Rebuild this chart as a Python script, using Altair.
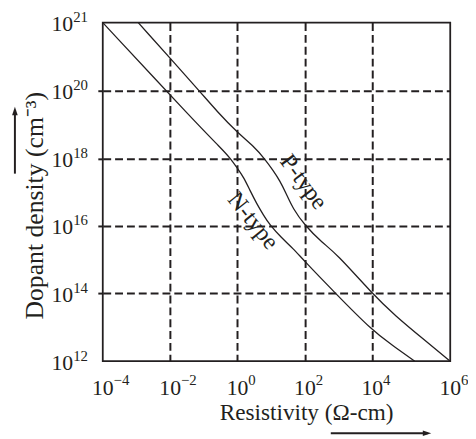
import altair as alt
import pandas as pd

# ---- data (resistivity in ohm-cm, density in cm^-3) ----
n_rho = [1.0e-4, 6.5e-2, 0.31, 0.62, 1.03, 1.52, 2.37,
         3.7, 5.9, 9.1, 20.0, 44, 97, 824, 1.0e4, 3.2e4, 1.23e5]
n_dens = [1.0e21, 1.0e19, 2.1e18, 1.0e18, 4.8e17, 2.75e17, 1.1e17,
          4.6e16, 2.1e16, 1.07e16, 4.5e15, 2.2e15, 9.1e14, 1.0e14, 8.1e12, 3.0e12, 1.0e12]
p_rho = [1.13e-3, 7.3e-2, 0.25, 1.01, 3.0, 6.5, 11.5, 18,
         28, 44, 97, 336, 824, 1.0e4, 3.8e4, 2.2e5, 1.0e6]
p_dens = [1.0e21, 1.0e20, 2.4e19, 5.7e18, 2.3e18, 9.5e17, 4.3e17, 2.2e17,
          9.0e16, 3.3e16, 1.07e16, 3.1e15, 1.6e15, 1.0e14, 2.25e13, 4.2e12, 1.0e12]

curve_names = ["N-type", "P-type"]
curve_label_rho = [2.85, 90.0]
curve_label_dens = [1.4e16, 2.0e17]

x_tick_values = [1e-4, 1e-2, 1e0, 1e2, 1e4, 1e6]
x_tick_sup = ["\u22124", "\u22122", "0", "2", "4", "6"]
y_tick_values = [1e12, 1e14, 1e16, 1e18, 1e20, 1e21]
y_tick_sup = ["12", "14", "16", "18", "20", "21"]

x_grid = [1e-2, 1e0, 1e2, 1e4]
y_grid = [1e14, 1e16, 1e18, 1e20]

ink = "#231f20"
font = "Liberation Serif"

W, H = 352, 343
xs = alt.Scale(type="log", domain=[1e-4, 1e4, 1e6], range=[0, 273, W])
ys = alt.Scale(type="log", domain=[1e12, 1e20, 1e21], range=[H, 69, 0])

xaxis = alt.Axis(values=x_grid, labels=False, ticks=False, domain=False,
                 grid=True, gridDash=[8, 4], gridWidth=2, gridColor=ink, gridOpacity=1,
                 title="Resistivity (\u03a9-cm)", titleFont=font, titleFontSize=23.5,
                 titleFontWeight="normal", titleColor=ink, titleX=206, titleY=59,
                 titleAlign="center", titleBaseline="alphabetic")
yaxis = alt.Axis(values=y_grid, labels=False, ticks=True, tickSize=9, tickDash=[5, 4],
                 tickWidth=2, tickColor=ink, domain=False,
                 grid=True, gridDash=[8, 4], gridWidth=2, gridColor=ink, gridOpacity=1,
                 title="Dopant density (cm\u207b\u00b3)", titleFont=font, titleFontSize=26,
                 titleFontWeight="normal", titleColor=ink, titleAngle=270,
                 titleX=-69, titleY=185, titleAlign="center", titleBaseline="middle")


def X(field):
    return alt.X(field, scale=xs, axis=xaxis)


def Y(field):
    return alt.Y(field, scale=ys, axis=yaxis)


curves = pd.DataFrame({
    "rho": n_rho + p_rho,
    "dens": n_dens + p_dens,
    "type": ["N-type"] * len(n_rho) + ["P-type"] * len(p_rho),
    "order": list(range(len(n_rho))) + list(range(len(p_rho))),
})

lines = alt.Chart(curves).mark_line(color=ink, strokeWidth=1.3, interpolate="basis").encode(
    x=X("rho:Q"), y=Y("dens:Q"), detail="type:N", order="order:Q")

lab_df = pd.DataFrame({"name": curve_names, "rho": curve_label_rho, "dens": curve_label_dens})
lab_n = alt.Chart(lab_df[lab_df.name == "N-type"]).mark_text(
    font=font, fontSize=24, color=ink, angle=51, align="center", baseline="middle").encode(
    x=X("rho:Q"), y=Y("dens:Q"), text="name:N")
lab_p = alt.Chart(lab_df[lab_df.name == "P-type"]).mark_text(
    font=font, fontSize=24, color=ink, angle=53, align="center", baseline="middle").encode(
    x=X("rho:Q"), y=Y("dens:Q"), text="name:N")

xl = pd.DataFrame({"v": x_tick_values, "sup": x_tick_sup, "base": ["10"] * len(x_tick_values)})
yl = pd.DataFrame({"v": y_tick_values, "sup": y_tick_sup, "base": ["10"] * len(y_tick_values)})

x_base = alt.Chart(xl).mark_text(font=font, fontSize=22, color=ink, align="center",
                                 baseline="alphabetic").encode(
    x=X("v:Q"), y=alt.value(H + 34), text="base:N")
x_sup = alt.Chart(xl).mark_text(font=font, fontSize=15, color=ink, align="left",
                                baseline="alphabetic", dx=11).encode(
    x=X("v:Q"), y=alt.value(H + 24), text="sup:N")
y_base = alt.Chart(yl).mark_text(font=font, fontSize=22, color=ink, align="right",
                                 baseline="alphabetic", dy=8.5).encode(
    y=Y("v:Q"), x=alt.value(-30), text="base:N")
y_sup = alt.Chart(yl).mark_text(font=font, fontSize=15, color=ink, align="left",
                                baseline="alphabetic", dy=-0.5).encode(
    y=Y("v:Q"), x=alt.value(-30), text="sup:N")

one = pd.DataFrame({"a": [0]})
arrow_v = alt.Chart(one).mark_rule(color=ink, strokeWidth=2).encode(
    x=alt.value(-89), y=alt.value(153), y2=alt.value(92))
head_v = alt.Chart(one).mark_point(shape="M0,-1L0.6,0.8L-0.6,0.8Z", filled=True, size=90,
                                   color=ink, opacity=1).encode(
    x=alt.value(-89), y=alt.value(90))
arrow_h = alt.Chart(one).mark_rule(color=ink, strokeWidth=2).encode(
    x=alt.value(231), x2=alt.value(329), y=alt.value(416))
head_h = alt.Chart(one).mark_point(shape="M1,0L-0.8,0.6L-0.8,-0.6Z", filled=True, size=90,
                                   color=ink, opacity=1).encode(
    x=alt.value(328), y=alt.value(416))

chart = alt.layer(lines, lab_n, lab_p, x_base, x_sup, y_base, y_sup,
                  arrow_v, head_v, arrow_h, head_h).properties(
    width=W, height=H,
    background="white",
    autosize=alt.AutoSizeParams(type="none"),
    padding={"left": 96, "top": 12, "right": 18, "bottom": 75},
).configure_view(stroke=ink, strokeWidth=1.8)

chart.save("out.html", embed_options={"renderer": "svg", "actions": False})
